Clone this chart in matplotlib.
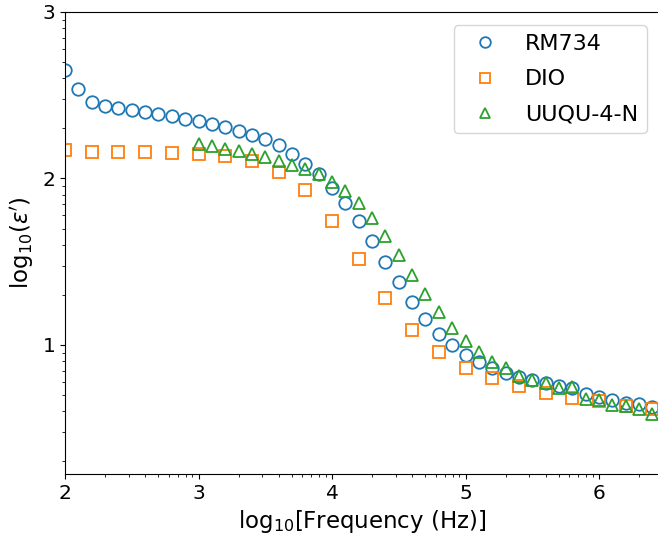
# Dielectric permittivity vs frequency for three nematic materials
import numpy as np
import matplotlib.pyplot as plt
from matplotlib.ticker import FuncFormatter, LogLocator, NullFormatter

# log10 of frequency (Hz) and log10 of eps'
logf_rm = [2.0, 2.1, 2.2, 2.3, 2.4, 2.5, 2.6, 2.7, 2.8, 2.9,
           3.0, 3.1, 3.2, 3.3, 3.4, 3.5, 3.6, 3.7, 3.8, 3.9,
           4.0, 4.1, 4.2, 4.3, 4.4, 4.5, 4.6, 4.7, 4.8, 4.9,
           5.0, 5.1, 5.2, 5.3, 5.4, 5.5, 5.6, 5.7, 5.8, 5.9,
           6.0, 6.1, 6.2, 6.3, 6.4]
loge_rm = [2.65, 2.54, 2.46, 2.437, 2.425, 2.41, 2.40, 2.39, 2.375, 2.36,
           2.345, 2.327, 2.307, 2.287, 2.26, 2.235, 2.20, 2.15, 2.09, 2.027,
           1.94, 1.85, 1.745, 1.625, 1.50, 1.376, 1.26, 1.156, 1.068, 1.0,
           0.94, 0.896, 0.86, 0.83, 0.81, 0.79, 0.774, 0.756, 0.744, 0.704,
           0.69, 0.67, 0.654, 0.646, 0.626]

logf_dio = [2.0, 2.2, 2.4, 2.6, 2.8, 3.0, 3.2, 3.4, 3.6, 3.8,
            4.0, 4.2, 4.4, 4.6, 4.8, 5.0, 5.2, 5.4, 5.6, 5.8,
            6.0, 6.2, 6.4]
loge_dio = [2.17, 2.16, 2.16, 2.16, 2.155, 2.147, 2.135, 2.105, 2.04, 1.93,
            1.747, 1.516, 1.284, 1.09, 0.955, 0.864, 0.80, 0.754, 0.714, 0.684,
            0.664, 0.634, 0.614]

logf_uu = [3.0, 3.1, 3.2, 3.3, 3.4, 3.5, 3.6, 3.7, 3.8, 3.9,
           4.0, 4.1, 4.2, 4.3, 4.4, 4.5, 4.6, 4.7, 4.8, 4.9,
           5.0, 5.1, 5.2, 5.3, 5.4, 5.5, 5.6, 5.7, 5.8, 5.9,
           6.0, 6.1, 6.2, 6.3, 6.4]
loge_uu = [2.207, 2.195, 2.18, 2.165, 2.145, 2.127, 2.107, 2.08, 2.056, 2.025,
           1.98, 1.922, 1.85, 1.76, 1.655, 1.54, 1.42, 1.306, 1.20, 1.104,
           1.022, 0.956, 0.90, 0.86, 0.816, 0.79, 0.77, 0.74, 0.75, 0.676,
           0.67, 0.64, 0.634, 0.614, 0.586]

labels = ["RM734", "DIO", "UUQU-4-N"]

fig = plt.figure(figsize=(6.58, 5.43), dpi=100)
# right spine falls just outside the picture, as in the original crop
ax = fig.add_axes([65 / 658, 69 / 543, 595 / 658, 462 / 543])

ms = 9
ax.plot(10 ** np.array(logf_rm), 10 ** np.array(loge_rm), "o", ms=ms, mfc="none",
        mec="C0", mew=1.3, label=labels[0])
ax.plot(10 ** np.array(logf_dio), 10 ** np.array(loge_dio), "s", ms=ms, mfc="none",
        mec="C1", mew=1.3, label=labels[1])
ax.plot(10 ** np.array(logf_uu), 10 ** np.array(loge_uu), "^", ms=ms, mfc="none",
        mec="C2", mew=1.3, label=labels[2])

ax.set_xscale("log")
ax.set_yscale("log")
ax.set_xlim(10 ** 2.0, 10 ** (2 + 595 / 133.5))
ax.set_ylim(10 ** 0.225, 10 ** 3.0)

# tick labels are shown as the exponent
expfmt = FuncFormatter(lambda v, p: "%d" % round(np.log10(v)))
for axis in (ax.xaxis, ax.yaxis):
    axis.set_major_locator(LogLocator(base=10, numticks=10))
    axis.set_major_formatter(expfmt)
    axis.set_minor_locator(LogLocator(base=10, subs=np.arange(2, 10), numticks=20))
    axis.set_minor_formatter(NullFormatter())
ax.tick_params(labelsize=14.5)

ax.set_xlabel("log$_{10}$[Frequency (Hz)]", fontsize=16.5)
ax.set_ylabel("log$_{10}$($\\varepsilon'$)", fontsize=16.5)

ax.legend(loc="upper right", fontsize=16, markerscale=0.85, labelspacing=0.68,
          borderaxespad=0.6)

fig.savefig("out.png", dpi=100)
